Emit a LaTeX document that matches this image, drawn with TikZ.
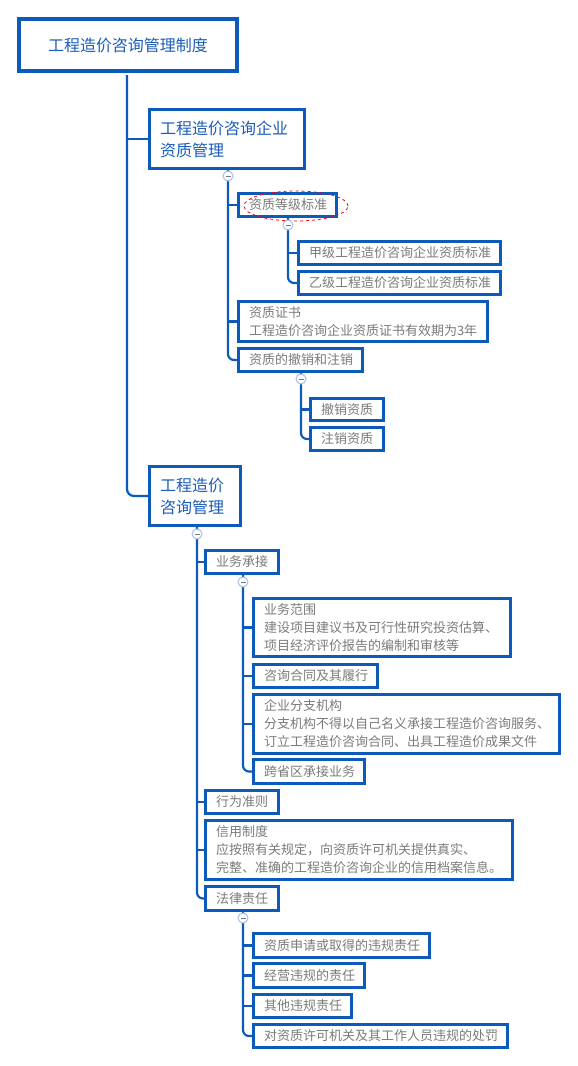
\documentclass[tikz,border=0pt]{standalone}
\usepackage{fontspec}
\setmainfont{Noto Sans CJK SC}
\definecolor{bord}{HTML}{0C5AB9}
\definecolor{ttl}{HTML}{1A5CB8}
\definecolor{txt}{HTML}{7A7A7A}
\definecolor{collc}{HTML}{A8BFE6}
\tikzset{
  box/.style={draw=bord,line width=3pt,rectangle,outer sep=0pt,inner xsep=10.5pt,inner ysep=0pt,align=left,text=txt,font=\fontsize{13}{18}\selectfont},
  ttlbox/.style={box,text=ttl,font=\fontsize{16}{22}\selectfont},
  conn/.style={draw=bord,line width=2.2pt},
  coll/.style={circle,draw=collc,line width=1pt,fill=white,minimum size=10pt,inner sep=0pt,
    path picture={\draw[txt,line width=1pt] ([xshift=-2.5pt]path picture bounding box.center) -- ([xshift=2.5pt]path picture bounding box.center);}}
}
\newcommand\bx[7][]{%
  \pgfmathsetmacro\bw{#5-#3-3}\pgfmathsetmacro\bh{#6-#4-3}\pgfmathsetmacro\tw{\bw-21}%
  \node[box,#1,anchor=north west,minimum width=\bw pt,minimum height=\bh pt,text width=\tw pt] (#2) at (#3+1.5,#4+1.5) {#7};}
\begin{document}
\begin{tikzpicture}[x=1pt,y=-1pt]
\useasboundingbox (0,0) rectangle (578,1066);
% nodes
\node[ttlbox,line width=4pt,anchor=north west,minimum width=218pt,minimum height=52pt,align=center] (root) at (19,19) {工程造价咨询管理制度};
\bx[ttlbox]{c1}{148}{108}{306}{170}{工程造价咨询企业\\资质管理}
\bx{a1}{237}{192}{338}{218}{资质等级标准}
\bx{a1a}{297}{240}{502}{266}{甲级工程造价咨询企业资质标准}
\bx{a1b}{297}{270}{502}{296}{乙级工程造价咨询企业资质标准}
\bx{a2}{237}{300}{489}{343}{资质证书\\工程造价咨询企业资质证书有效期为3年}
\bx{a3}{237}{347}{364}{373}{资质的撤销和注销}
\bx{a3a}{309}{397}{385}{422}{撤销资质}
\bx{a3b}{309}{426}{385}{452}{注销资质}
\bx[ttlbox]{c2}{148}{465}{242}{527}{工程造价\\咨询管理}
\bx{b1}{204}{549}{280}{575}{业务承接}
\bx{b1a}{252}{597}{512}{658}{业务范围\\建设项目建议书及可行性研究投资估算、\\项目经济评价报告的编制和审核等}
\bx{b1b}{252}{663}{379}{689}{咨询合同及其履行}
\bx{b1c}{252}{693}{561}{755}{企业分支机构\\分支机构不得以自己名义承接工程造价咨询服务、\\订立工程造价咨询合同、出具工程造价成果文件}
\bx{b1d}{252}{758}{366}{785}{跨省区承接业务}
\bx{b2}{204}{789}{280}{815}{行为准则}
\bx{b3}{204}{819}{514}{881}{信用制度\\应按照有关规定，向资质许可机关提供真实、\\完整、准确的工程造价咨询企业的信用档案信息。}
\bx{b4}{204}{885}{280}{912}{法律责任}
\bx{b4a}{252}{932}{431}{959}{资质申请或取得的违规责任}
\bx{b4b}{252}{962}{366}{989}{经营违规的责任}
\bx{b4c}{252}{993}{353}{1019}{其他违规责任}
\bx{b4d}{252}{1023}{509}{1049}{对资质许可机关及其工作人员违规的处罚}
% ellipse highlight
\draw[red,dashed,line width=0.8pt] (296,206) ellipse [x radius=52pt,y radius=15pt];
% root trunk
\coordinate (r0) at (127,75);
\draw[conn,rounded corners=7pt] (r0) |- (c2.west);
\draw[conn] (r0 |- c1.west) -- (c1.west);
% c1 children
\coordinate (k1) at (228,176);
\draw[conn,rounded corners=6pt] (k1 |- c1.south) |- (a3.west);
\draw[conn] (k1 |- a1.west) -- (a1.west);
\draw[conn] (k1 |- a2.west) -- (a2.west);
\node[coll] (kk1) at (k1) {};
% a1 children
\coordinate (k2) at (288,225);
\draw[conn,rounded corners=6pt] (k2 |- a1.south) |- (a1b.west);
\draw[conn] (k2 |- a1a.west) -- (a1a.west);
\node[coll] (kk2) at (k2) {};
% a3 children
\coordinate (k3) at (301,379);
\draw[conn,rounded corners=6pt] (k3 |- a3.south) |- (a3b.west);
\draw[conn] (k3 |- a3a.west) -- (a3a.west);
\node[coll] (kk3) at (k3) {};
% c2 children
\coordinate (k4) at (197,534);
\draw[conn,rounded corners=6pt] (k4 |- c2.south) |- (b4.west);
\draw[conn] (k4 |- b1.west) -- (b1.west);
\draw[conn] (k4 |- b2.west) -- (b2.west);
\draw[conn] (k4 |- b3.west) -- (b3.west);
\node[coll] (kk4) at (k4) {};
% b1 children
\coordinate (k5) at (243,582);
\draw[conn,rounded corners=6pt] (k5 |- b1.south) |- (b1d.west);
\draw[conn] (k5 |- b1a.west) -- (b1a.west);
\draw[conn] (k5 |- b1b.west) -- (b1b.west);
\draw[conn] (k5 |- b1c.west) -- (b1c.west);
\node[coll] (kk5) at (k5) {};
% b4 children
\coordinate (k6) at (243,918);
\draw[conn,rounded corners=6pt] (k6 |- b4.south) |- (b4d.west);
\draw[conn] (k6 |- b4a.west) -- (b4a.west);
\draw[conn] (k6 |- b4b.west) -- (b4b.west);
\draw[conn] (k6 |- b4c.west) -- (b4c.west);
\node[coll] (kk6) at (k6) {};
\end{tikzpicture}
\end{document}
